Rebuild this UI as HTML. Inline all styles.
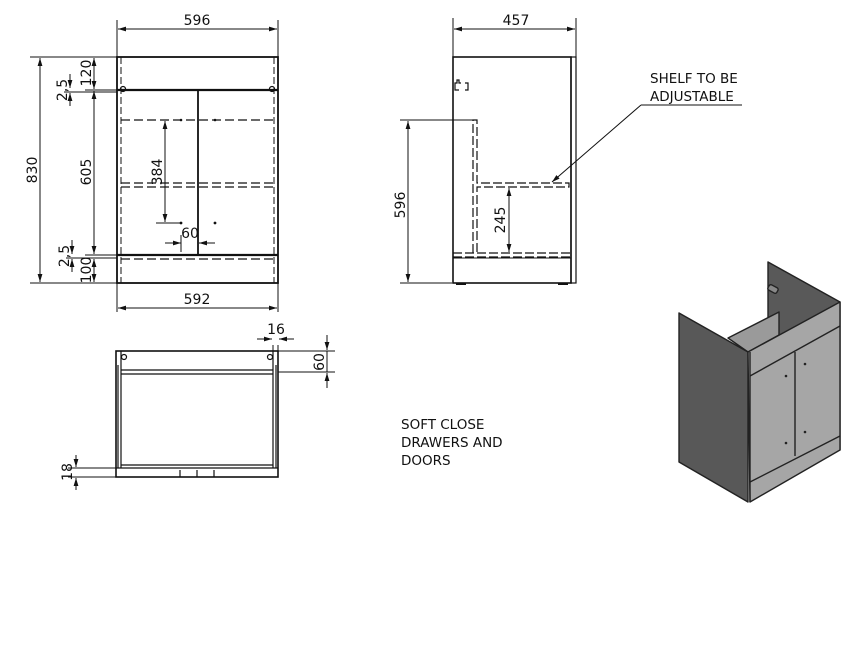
<!DOCTYPE html>
<html><head><meta charset="utf-8"><style>
html,body{margin:0;padding:0;background:#fff;}
svg{display:block;}
text{font-family:"DejaVu Sans","Liberation Sans",sans-serif;fill:#111;}
</style></head><body>
<svg width="866" height="653" viewBox="0 0 866 653" xmlns="http://www.w3.org/2000/svg">
<defs>
<marker id="a" viewBox="0 0 10 6" refX="10" refY="3" markerWidth="8" markerHeight="5" orient="auto-start-reverse" markerUnits="userSpaceOnUse"><path d="M0,0L10,3L0,6z" fill="#111"/></marker>
</defs>
<g stroke="#111" fill="none">
<!-- FRONT VIEW -->
<g stroke-width="1">
<line x1="117" y1="20" x2="117" y2="57"/><line x1="278" y1="20" x2="278" y2="57"/>
<line x1="118" y1="29" x2="277" y2="29" marker-start="url(#a)" marker-end="url(#a)"/>
<line x1="30" y1="57" x2="117" y2="57"/><line x1="30" y1="283" x2="117" y2="283"/>
<line x1="40" y1="58" x2="40" y2="282" marker-start="url(#a)" marker-end="url(#a)"/>
<line x1="85" y1="90" x2="117" y2="90"/><line x1="85" y1="255" x2="117" y2="255"/>
<line x1="94" y1="58" x2="94" y2="89" marker-start="url(#a)" marker-end="url(#a)"/>
<line x1="94" y1="91" x2="94" y2="254" marker-start="url(#a)" marker-end="url(#a)"/>
<line x1="94" y1="259" x2="94" y2="282" marker-start="url(#a)" marker-end="url(#a)"/>
<line x1="70" y1="74" x2="70" y2="88" marker-end="url(#a)"/><line x1="70" y1="106" x2="70" y2="93" marker-end="url(#a)"/>
<line x1="64" y1="92" x2="117" y2="92"/>
<line x1="72" y1="240" x2="72" y2="254" marker-end="url(#a)"/><line x1="72" y1="272" x2="72" y2="259" marker-end="url(#a)"/>
<line x1="66" y1="258" x2="117" y2="258"/>
<line x1="117" y1="283" x2="117" y2="312"/><line x1="278" y1="283" x2="278" y2="312"/>
<line x1="118" y1="308" x2="277" y2="308" marker-start="url(#a)" marker-end="url(#a)"/>
<line x1="165" y1="121" x2="165" y2="222" marker-start="url(#a)" marker-end="url(#a)"/>
<line x1="156" y1="223" x2="180" y2="223"/>
<line x1="165" y1="243" x2="181" y2="243" marker-end="url(#a)"/><line x1="215" y1="243" x2="199" y2="243" marker-end="url(#a)"/>
<line x1="181" y1="235" x2="181" y2="252"/>
</g>
<rect x="117" y="57" width="161" height="226" stroke-width="1.8"/>
<line x1="121" y1="57" x2="121" y2="283" stroke-width="1" stroke-dasharray="7,3"/>
<line x1="274" y1="57" x2="274" y2="283" stroke-width="1" stroke-dasharray="7,3"/>
<line x1="117" y1="90" x2="278" y2="90" stroke-width="2.2"/>
<line x1="117" y1="255" x2="278" y2="255" stroke-width="2.2"/>
<line x1="198" y1="90" x2="198" y2="255" stroke-width="1.8"/>
<g stroke-width="1.2" stroke-dasharray="9,4">
<line x1="121" y1="120" x2="274" y2="120"/>
<line x1="121" y1="183" x2="274" y2="183"/><line x1="121" y1="187" x2="274" y2="187"/>
<line x1="121" y1="259" x2="274" y2="259"/>
</g>
<circle cx="123" cy="89" r="2.5" stroke-width="1.2"/><circle cx="272" cy="89" r="2.5" stroke-width="1.2"/>
<!-- SIDE VIEW -->
<g stroke-width="1">
<line x1="453" y1="18" x2="453" y2="57"/><line x1="576" y1="18" x2="576" y2="57"/>
<line x1="454" y1="29" x2="575" y2="29" marker-start="url(#a)" marker-end="url(#a)"/>
<line x1="400" y1="120" x2="473" y2="120"/><line x1="400" y1="283" x2="452" y2="283"/>
<line x1="408" y1="121" x2="408" y2="282" marker-start="url(#a)" marker-end="url(#a)"/>
<line x1="509" y1="188" x2="509" y2="252" marker-start="url(#a)" marker-end="url(#a)"/>
<line x1="641" y1="105" x2="742" y2="105"/>
<line x1="641" y1="105" x2="552" y2="182" marker-end="url(#a)"/>
</g>
<rect x="453" y="57" width="118" height="226" stroke-width="1.6"/>
<rect x="571" y="57" width="5" height="226" stroke-width="1.2"/>
<g stroke-width="1.2" stroke-dasharray="9,3">
<path d="M473,253V120H477V183H569V187H477V253"/>
<line x1="453" y1="253" x2="571" y2="253"/><line x1="453" y1="257" x2="571" y2="257"/>
</g>
<line x1="453" y1="258" x2="571" y2="258" stroke-width="1"/>
<path d="M461,83h-2v-3h-2v3h-2v7h4M465,83h3v7h-3" stroke-width="1.2"/>
<rect x="456" y="283" width="10" height="2" fill="#111" stroke="none"/><rect x="558" y="283" width="10" height="2" fill="#111" stroke="none"/>
<!-- PLAN VIEW -->
<g stroke-width="1">
<line x1="278" y1="351" x2="335" y2="351"/><line x1="278" y1="372" x2="335" y2="372"/>
<line x1="327" y1="335" x2="327" y2="350" marker-end="url(#a)"/><line x1="327" y1="388" x2="327" y2="373" marker-end="url(#a)"/>
<line x1="327" y1="351" x2="327" y2="372"/>
<line x1="273" y1="345" x2="273" y2="351"/><line x1="278" y1="345" x2="278" y2="351"/>
<line x1="257" y1="339" x2="272" y2="339" marker-end="url(#a)"/><line x1="294" y1="339" x2="279" y2="339" marker-end="url(#a)"/>
<line x1="68" y1="468" x2="116" y2="468"/><line x1="68" y1="477" x2="116" y2="477"/>
<line x1="76" y1="455" x2="76" y2="467" marker-end="url(#a)"/><line x1="76" y1="490" x2="76" y2="478" marker-end="url(#a)"/>
</g>
<rect x="116" y="351" width="162" height="126" stroke-width="1.6"/>
<g stroke-width="1.2">
<line x1="121" y1="351" x2="121" y2="468"/><line x1="273" y1="351" x2="273" y2="468"/>
<line x1="121" y1="370" x2="273" y2="370"/><line x1="121" y1="374" x2="273" y2="374"/>
<line x1="116" y1="468" x2="278" y2="468"/><line x1="121" y1="465" x2="273" y2="465"/>
<line x1="180" y1="470" x2="180" y2="477"/><line x1="197" y1="470" x2="197" y2="477"/><line x1="214" y1="470" x2="214" y2="477"/>
<line x1="118" y1="365" x2="118" y2="468"/><line x1="276" y1="365" x2="276" y2="468"/>
</g>
<circle cx="124" cy="357" r="2.5" stroke-width="1.2"/><circle cx="270" cy="357" r="2.5" stroke-width="1.2"/>
</g>
<g fill="#111">
<circle cx="181" cy="223" r="1.4"/><circle cx="215" cy="223" r="1.4"/>
<circle cx="181" cy="120" r="1.3"/><circle cx="215" cy="120" r="1.3"/>
</g>
<!-- ISO -->
<g stroke="#222" stroke-width="1.4" stroke-linejoin="round">
<polygon points="768,262 840,302 840,450 768,410" fill="#595959"/>
<polygon points="728,338 779,312 779,335 748,352" fill="#9a9a9a"/>
<polygon points="679,313 748,352 748,502 679,462" fill="#585858"/>
<polygon points="748,352 840,302 840,450 750,502" fill="#a6a6a6"/>
<line x1="750" y1="376" x2="840" y2="326"/>
<line x1="750" y1="482" x2="840" y2="436"/>
<line x1="795" y1="352" x2="795" y2="456"/>
<line x1="750" y1="352" x2="750" y2="502"/>
<rect x="768" y="286" width="10" height="6" rx="2" fill="#888" transform="rotate(28 773 289)"/>
</g>
<g fill="#222"><circle cx="786" cy="376" r="1.3"/><circle cx="786" cy="443" r="1.3"/><circle cx="805" cy="364" r="1.3"/><circle cx="805" cy="432" r="1.3"/></g>
<!-- TEXT -->
<g font-size="14">
<text x="197" y="25" text-anchor="middle">596</text>
<text x="197" y="304" text-anchor="middle">592</text>
<text x="516" y="25" text-anchor="middle">457</text>
<text transform="translate(37,170) rotate(-90)" text-anchor="middle">830</text>
<text transform="translate(91,172) rotate(-90)" text-anchor="middle">605</text>
<text transform="translate(91,73) rotate(-90)" text-anchor="middle">120</text>
<text transform="translate(67,90) rotate(-90)" text-anchor="middle">2,5</text>
<text transform="translate(69,256) rotate(-90)" text-anchor="middle">2,5</text>
<text transform="translate(91,270) rotate(-90)" text-anchor="middle">100</text>
<text transform="translate(162,172) rotate(-90)" text-anchor="middle">384</text>
<text x="190" y="238" text-anchor="middle">60</text>
<text transform="translate(405,205) rotate(-90)" text-anchor="middle">596</text>
<text transform="translate(505,220) rotate(-90)" text-anchor="middle">245</text>
<text x="276" y="334" text-anchor="middle">16</text>
<text transform="translate(324,362) rotate(-90)" text-anchor="middle">60</text>
<text transform="translate(72,472) rotate(-90)" text-anchor="middle">18</text>
<text x="650" y="83" font-size="13.5">SHELF TO BE</text>
<text x="650" y="101" font-size="13.5">ADJUSTABLE</text>
<text x="401" y="429" font-size="13.5">SOFT CLOSE</text>
<text x="401" y="447" font-size="13.5">DRAWERS AND</text>
<text x="401" y="465" font-size="13.5">DOORS</text>
</g>
</svg>
</body></html>
